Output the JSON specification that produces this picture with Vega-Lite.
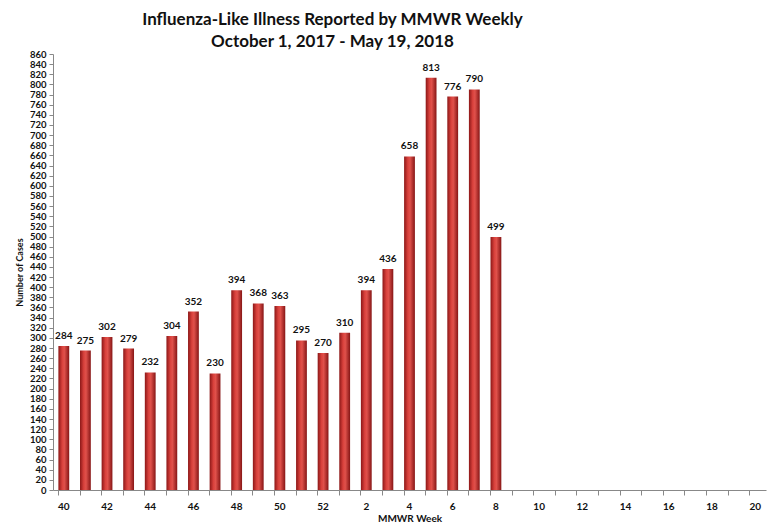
{
  "$schema": "https://vega.github.io/schema/vega-lite/v6.json",
  "autosize": {"type": "none"},
  "width": 713,
  "height": 436,
  "padding": {"left": 53, "top": 54, "right": 7, "bottom": 35},
  "background": "white",
  "title": {
    "text": ["Influenza-Like Illness Reported by MMWR Weekly", "October 1, 2017 - May 19, 2018"],
    "font": "Lato",
    "fontSize": 17,
    "fontWeight": "bold",
    "color": "#111111",
    "anchor": "middle",
    "dx": -77,
    "lineHeight": 22,
    "offset": -2
  },
  "config": {
    "view": {"stroke": null},
    "font": "Lato"
  },
  "data": {
    "values": [
      {"week": "40", "cases": 284},
      {"week": "41", "cases": 275},
      {"week": "42", "cases": 302},
      {"week": "43", "cases": 279},
      {"week": "44", "cases": 232},
      {"week": "45", "cases": 304},
      {"week": "46", "cases": 352},
      {"week": "47", "cases": 230},
      {"week": "48", "cases": 394},
      {"week": "49", "cases": 368},
      {"week": "50", "cases": 363},
      {"week": "51", "cases": 295},
      {"week": "52", "cases": 270},
      {"week": "1", "cases": 310},
      {"week": "2", "cases": 394},
      {"week": "3", "cases": 436},
      {"week": "4", "cases": 658},
      {"week": "5", "cases": 813},
      {"week": "6", "cases": 776},
      {"week": "7", "cases": 790},
      {"week": "8", "cases": 499}
    ]
  },
  "encoding": {
    "x": {
      "field": "week",
      "type": "ordinal",
      "scale": {
        "domain": ["40","41","42","43","44","45","46","47","48","49","50","51","52","1","2","3","4","5","6","7","8","9","10","11","12","13","14","15","16","17","18","19","20"],
        "paddingInner": 0.5,
        "paddingOuter": 0.25
      },
      "axis": {
        "title": "MMWR Week",
        "titleFont": "Lato",
        "titleFontSize": 10,
        "titleFontWeight": "bold",
        "titleColor": "#111111",
        "titlePadding": 2,
        "labelAngle": 0,
        "labelFont": "Lato",
        "labelFontSize": 10,
        "labelFontWeight": "bold",
        "labelColor": "#111111",
        "labelPadding": 6,
        "labelOverlap": false,
        "labelExpr": "toNumber(datum.value) % 2 == 0 ? datum.label : ''",
        "bandPosition": 0,
        "tickSize": 5,
        "tickColor": "#888888",
        "domainColor": "#888888",
        "grid": false
      }
    },
    "y": {
      "field": "cases",
      "type": "quantitative",
      "scale": {"domain": [0, 860], "nice": false},
      "axis": {
        "title": "Number of Cases",
        "titleFont": "Lato",
        "titleFontSize": 9,
        "titleFontWeight": "bold",
        "titleColor": "#111111",
        "titlePadding": 5,
        "values": [0,20,40,60,80,100,120,140,160,180,200,220,240,260,280,300,320,340,360,380,400,420,440,460,480,500,520,540,560,580,600,620,640,660,680,700,720,740,760,780,800,820,840,860],
        "labelFont": "Lato",
        "labelFontSize": 9.5,
        "labelFontWeight": "bold",
        "labelColor": "#111111",
        "labelPadding": 3,
        "labelOverlap": false,
        "tickSize": 4,
        "tickColor": "#888888",
        "domainColor": "#888888",
        "grid": false
      }
    }
  },
  "layer": [
    {
      "mark": {
        "type": "bar",
        "color": {
          "gradient": "linear",
          "x1": 0, "x2": 1, "y1": 0, "y2": 0,
          "stops": [
            {"offset": 0, "color": "#8c1717"},
            {"offset": 0.35, "color": "#d9413c"},
            {"offset": 0.55, "color": "#e0514b"},
            {"offset": 1, "color": "#861515"}
          ]
        }
      }
    },
    {
      "mark": {
        "type": "text",
        "dy": -10,
        "font": "Lato",
        "fontSize": 10,
        "fontWeight": "bold",
        "color": "#111111"
      },
      "encoding": {
        "text": {"field": "cases", "type": "quantitative"}
      }
    }
  ]
}
